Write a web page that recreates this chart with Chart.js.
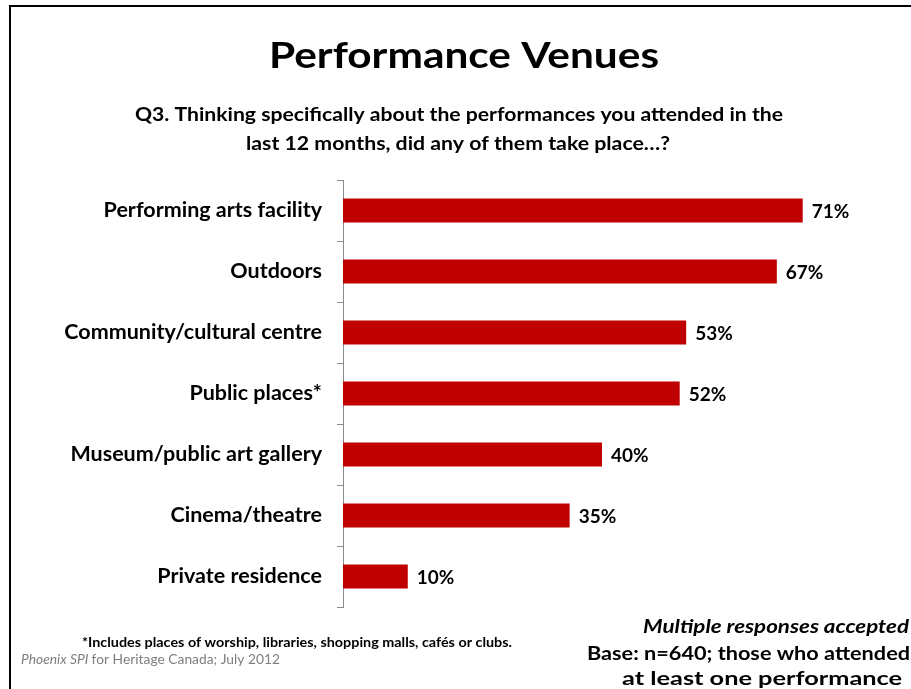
<!DOCTYPE html>
<html>
<head>
<meta charset="utf-8">
<title>Performance Venues</title>
<script src="https://cdn.jsdelivr.net/npm/chart.js@4.4.0/dist/chart.umd.min.js"></script>
<style>
  body { margin: 0; background: #fff; }
  #wrap { position: relative; width: 911px; height: 689px; overflow: hidden; }
  #frame { position: absolute; left: 9px; top: 5px; width: 1200px; height: 1200px;
           border-left: 2px solid #000; border-top: 2px solid #000; }
  #myChart { position: absolute; left: 0; top: 0; }
</style>
</head>
<body>
<div id="wrap">
  <div id="frame"></div>
  <canvas id="myChart" width="911" height="689"></canvas>
</div>
<script>
// chart data
var categories = ["Performing arts facility", "Outdoors", "Community/cultural centre",
                  "Public places*", "Museum/public art gallery", "Cinema/theatre", "Private residence"];
var values = [71, 67, 53, 52, 40, 35, 10];
var axisMin = 0;
var axisMax = 80;

var FONT = "Lato, 'Open Sans', sans-serif";

// slide texts: [parts, colour, left x, baseline, width]  (parts = [text, font])
var slideTexts = [
    [[["Performance Venues", "bold 36px " + FONT]], "#000", 269, 68, 390],
    [[["Q3. Thinking specifically about the performances you attended in the", "bold 18.5px " + FONT]], "#000", 135, 121, 648],
    [[["last 12 months, did any of them take place\u2026?", "bold 18.5px " + FONT]], "#000", 246, 150, 424],
    [[["*Includes places of worship, libraries, shopping malls, caf\u00e9s or clubs.", "bold 12.5px " + FONT]], "#000", 82, 647, 430],
    [[["Phoenix SPI ", "italic 12.5px " + FONT], ["for Heritage Canada; July 2012", "12.5px " + FONT]], "#7f7f7f", 21, 664, 259],
    [[["Multiple responses accepted", "italic bold 18px " + FONT]], "#000", 643, 633, 266],
    [[["Base: n=640; those who attended", "bold 18px " + FONT]], "#000", 587, 660, 323],
    [[["at least one performance", "bold 19px " + FONT]], "#000", 622, 685, 280]
];

// draws a line of text stretched to the width it has on the slide
function drawFitted(ctx, t) {
    var total = 0;
    t[0].forEach(function (p) { ctx.font = p[1]; total += ctx.measureText(p[0]).width; });
    ctx.save();
    ctx.translate(t[2], t[3]);
    ctx.scale(t[4] / total, 1);
    ctx.fillStyle = t[1];
    var x = 0;
    t[0].forEach(function (p) {
        ctx.font = p[1];
        ctx.fillText(p[0], x, 0);
        x += ctx.measureText(p[0]).width;
    });
    ctx.restore();
}

var textPlugin = {
    id: 'slideText',
    afterDraw: function (chart) {
        var ctx = chart.ctx;
        ctx.save();
        ctx.textAlign = 'left';
        ctx.textBaseline = 'alphabetic';
        slideTexts.forEach(function (t) { drawFitted(ctx, t); });
        ctx.restore();
    }
};

var valuePlugin = {
    id: 'valueLabels',
    afterDatasetsDraw: function (chart) {
        var ctx = chart.ctx;
        var meta = chart.getDatasetMeta(0);
        ctx.save();
        ctx.font = "bold 19px " + FONT;
        ctx.fillStyle = '#000';
        ctx.textAlign = 'left';
        ctx.textBaseline = 'middle';
        meta.data.forEach(function (bar, i) {
            ctx.fillText(values[i] + '%', bar.x + 9, bar.y + 1);
        });
        ctx.restore();
    }
};

var myChart = document.getElementById("myChart").getContext('2d');
var chart = new Chart(myChart, {
    type: 'bar',
    data: {
        labels: categories,
        datasets: [{
            data: values,
            backgroundColor: '#c00000',
            borderWidth: 0,
            barPercentage: 0.39,
            categoryPercentage: 1
        }]
    },
    options: {
        indexAxis: 'y',
        responsive: false,
        animation: false,
        events: [],
        layout: { padding: { left: 0, top: 180, right: 50, bottom: 82 } },
        plugins: {
            legend: { display: false },
            tooltip: { enabled: false }
        },
        scales: {
            x: { display: false, min: axisMin, max: axisMax },
            y: {
                grid: { display: true, offset: true, drawOnChartArea: false, drawTicks: true,
                        tickLength: 6, color: '#8c8c8c', lineWidth: 1 },
                border: { display: true, color: '#8c8c8c', width: 1 },
                ticks: { color: '#000', padding: 15,
                         font: { family: FONT, size: 21.5, weight: 'bold' } },
                afterFit: function (scale) { scale.width = 343; }
            }
        }
    },
    plugins: [valuePlugin, textPlugin]
});
</script>
</body>
</html>
